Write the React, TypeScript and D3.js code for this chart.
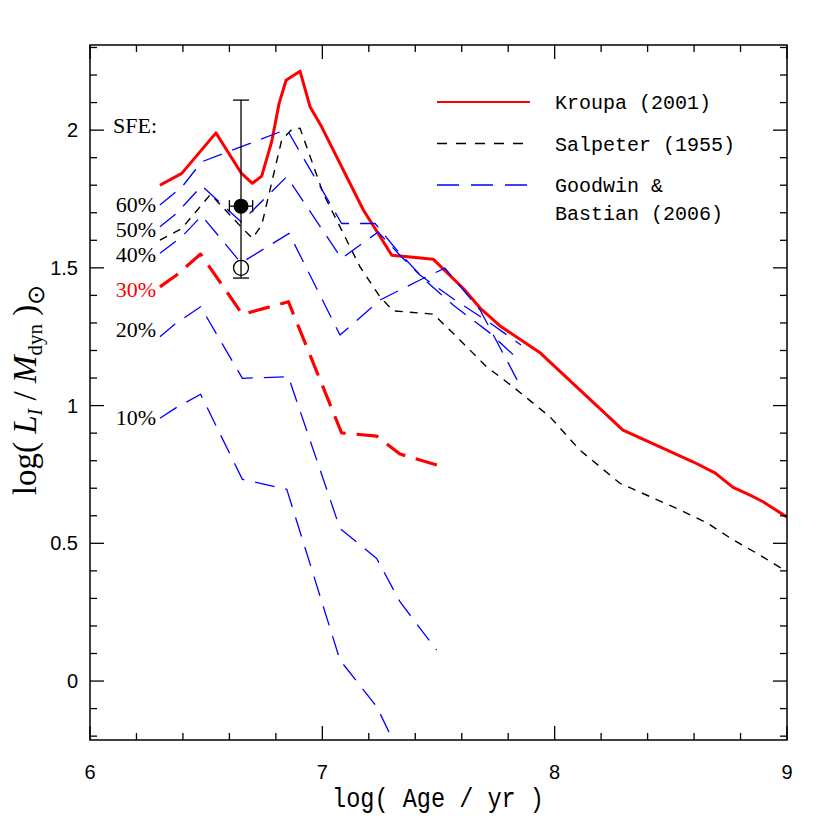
import React from "react";
import * as d3 from "d3";

type P = [number, number];

const kroupa: P[] = [
  [6.301, 1.8], [6.395, 1.843], [6.542, 1.99], [6.65, 1.845], [6.699, 1.807], [6.739, 1.833],
  [6.782, 1.958], [6.814, 2.097], [6.844, 2.181], [6.904, 2.214], [6.947, 2.085], [6.997, 2.012],
  [7.176, 1.711], [7.299, 1.546], [7.478, 1.531], [7.607, 1.425], [7.679, 1.354], [7.765, 1.289],
  [7.937, 1.192], [7.971, 1.165], [8.294, 0.911], [8.484, 0.838], [8.595, 0.796], [8.69, 0.756],
  [8.768, 0.703], [8.841, 0.675], [8.897, 0.651], [9.0, 0.595],
];

const salpeter: P[] = [
  [6.301, 1.601], [6.395, 1.643], [6.519, 1.767], [6.65, 1.649], [6.699, 1.607], [6.739, 1.655],
  [6.825, 1.964], [6.868, 2.002], [6.904, 2.007], [7.004, 1.77], [7.083, 1.637], [7.162, 1.504],
  [7.248, 1.395], [7.305, 1.344], [7.478, 1.332], [7.578, 1.25], [7.707, 1.141], [7.821, 1.068],
  [7.98, 0.959], [8.109, 0.838], [8.281, 0.718], [8.54, 0.621], [8.654, 0.575], [8.769, 0.512],
  [8.87, 0.464], [9.0, 0.397],
];

const gb60: P[] = [
  [6.301, 1.728], [6.395, 1.793], [6.481, 1.885], [6.847, 2.003], [7.083, 1.661], [7.227, 1.661],
  [7.313, 1.572], [7.442, 1.455], [7.563, 1.365], [7.722, 1.263], [7.855, 1.158],
];
const gb50: P[] = [
  [6.301, 1.649], [6.373, 1.698], [6.481, 1.798], [6.65, 1.667], [6.847, 1.831], [7.083, 1.534],
  [7.24, 1.63], [7.334, 1.546], [7.42, 1.474], [7.571, 1.383], [7.722, 1.3], [7.855, 1.22],
];
const gb40: P[] = [
  [6.301, 1.553], [6.395, 1.613], [6.481, 1.689], [6.65, 1.518], [6.857, 1.625], [7.076, 1.256],
  [7.248, 1.383], [7.42, 1.456], [7.528, 1.499], [7.679, 1.347], [7.855, 1.067],
];
const kroupa30: P[] = [
  [6.301, 1.431], [6.373, 1.474], [6.476, 1.55], [6.656, 1.331], [6.854, 1.377], [7.083, 0.901],
  [7.234, 0.889], [7.334, 0.824], [7.506, 0.781],
];
const gb20: P[] = [
  [6.301, 1.25], [6.366, 1.296], [6.476, 1.359], [6.656, 1.099], [6.854, 1.105], [7.076, 0.554],
  [7.234, 0.445], [7.334, 0.288], [7.492, 0.112],
];
const gb10: P[] = [
  [6.301, 0.954], [6.366, 0.99], [6.476, 1.041], [6.656, 0.732], [6.847, 0.696], [7.076, 0.076],
  [7.234, -0.093], [7.356, -0.305],
];

const xTicks = [6, 7, 8, 9];
const yTicks = [0, 0.5, 1, 1.5, 2];
const sfeLabels = [
  { t: "60%", y: 1.728, c: "#000" },
  { t: "50%", y: 1.637, c: "#000" },
  { t: "40%", y: 1.545, c: "#000" },
  { t: "30%", y: 1.42, c: "#ff0000" },
  { t: "20%", y: 1.275, c: "#000" },
  { t: "10%", y: 0.955, c: "#000" },
];
const obs = { x: 6.65, y: 1.724, xerr: 0.05, ylo: 1.463, yhi: 2.109, yOpen: 1.5 };
const legendItems = [
  { label: ["Kroupa (2001)"], color: "#ff0000", dash: "none", w: 2 },
  { label: ["Salpeter (1955)"], color: "#000", dash: "10,9", w: 1.5 },
  { label: ["Goodwin &", "Bastian (2006)"], color: "#0000ff", dash: "22,12", w: 1.5 },
];

const L = 90, R = 787, T = 45, B = 740;

export default function App() {
  const x = d3.scaleLinear().domain([6, 9]).range([L, R]);
  const y = d3.scaleLinear().domain([-0.214, 2.309]).range([B, T]);
  const line = d3.line<P>().x((d) => x(d[0])).y((d) => y(d[1]));
  const xMinor = d3.range(6, 9.001, 0.2);
  const yMinor = d3.range(-0.2, 2.301, 0.1);
  const tickFont = "'Liberation Sans', Arial, sans-serif";
  const serif = "'Liberation Serif', 'Times New Roman', serif";

  return (
    <svg width={830} height={830} style={{ display: "block", position: "absolute", left: 0, top: 0 }}>
      <rect width={830} height={830} fill="#fff" />
      <defs>
        <clipPath id="plotclip">
          <rect x={L} y={T} width={R - L} height={B - T} />
        </clipPath>
      </defs>
      <g clipPath="url(#plotclip)" fill="none" strokeLinejoin="round">
        <path d={line(kroupa)!} stroke="#ff0000" strokeWidth={3} />
        <path d={line(salpeter)!} stroke="#000" strokeWidth={1.4} strokeDasharray="8,7" />
        <path d={line(gb60)!} stroke="#0000ff" strokeWidth={1.3} strokeDasharray="20,11" />
        <path d={line(gb50)!} stroke="#0000ff" strokeWidth={1.3} strokeDasharray="20,11" />
        <path d={line(gb40)!} stroke="#0000ff" strokeWidth={1.3} strokeDasharray="20,11" />
        <path d={line(kroupa30)!} stroke="#ff0000" strokeWidth={3.2} strokeDasharray="22,11" />
        <path d={line(gb20)!} stroke="#0000ff" strokeWidth={1.3} strokeDasharray="20,11" />
        <path d={line(gb10)!} stroke="#0000ff" strokeWidth={1.3} strokeDasharray="20,11" />
      </g>

      {/* observation */}
      <g stroke="#000" strokeWidth={1.3} fill="none">
        <line x1={x(obs.x)} x2={x(obs.x)} y1={y(obs.yhi)} y2={y(obs.ylo)} />
        <line x1={x(obs.x) - 8} x2={x(obs.x) + 8} y1={y(obs.yhi)} y2={y(obs.yhi)} />
        <line x1={x(obs.x) - 8} x2={x(obs.x) + 8} y1={y(obs.ylo)} y2={y(obs.ylo)} />
        <line x1={x(obs.x - obs.xerr)} x2={x(obs.x + obs.xerr)} y1={y(obs.y)} y2={y(obs.y)} />
        <line x1={x(obs.x - obs.xerr)} x2={x(obs.x - obs.xerr)} y1={y(obs.y) - 6} y2={y(obs.y) + 6} />
        <line x1={x(obs.x + obs.xerr)} x2={x(obs.x + obs.xerr)} y1={y(obs.y) - 6} y2={y(obs.y) + 6} />
        <circle cx={x(obs.x)} cy={y(obs.yOpen)} r={7.5} />
      </g>
      <circle cx={x(obs.x)} cy={y(obs.y)} r={7.5} fill="#000" />

      {/* frame */}
      <rect x={L} y={T} width={R - L} height={B - T} fill="none" stroke="#000" strokeWidth={1.5} />
      <g stroke="#000" strokeWidth={1.3}>
        {xMinor.map((v, i) => {
          const major = Math.abs(v - Math.round(v)) < 1e-6;
          const len = major ? 14 : 7;
          return (
            <g key={"x" + i}>
              <line x1={x(v)} x2={x(v)} y1={B} y2={B - len} />
              <line x1={x(v)} x2={x(v)} y1={T} y2={T + len} />
            </g>
          );
        })}
        {yMinor.map((v, i) => {
          const major = Math.abs(v * 2 - Math.round(v * 2)) < 1e-6;
          const len = major ? 14 : 7;
          return (
            <g key={"y" + i}>
              <line x1={L} x2={L + len} y1={y(v)} y2={y(v)} />
              <line x1={R} x2={R - len} y1={y(v)} y2={y(v)} />
            </g>
          );
        })}
      </g>
      <g fontFamily={tickFont} fontSize={20} fill="#000">
        {xTicks.map((v) => (
          <text key={v} x={x(v)} y={779} textAnchor="middle">{v}</text>
        ))}
        {yTicks.map((v) => (
          <text key={v} x={78} y={y(v) + 7} textAnchor="end">{v}</text>
        ))}
      </g>

      {/* axis labels */}
      <text x={438} y={807} textAnchor="middle" fontFamily="'Liberation Mono', monospace" fontSize={28}
        textLength={212} lengthAdjust="spacingAndGlyphs">log( Age / yr )</text>
      <text transform="translate(36,390) rotate(-90)" textAnchor="middle"
        fontFamily={serif} fontSize={33}>
        <tspan>log( </tspan>
        <tspan fontStyle="italic">L</tspan>
        <tspan fontStyle="italic" fontSize={20} dy={6}>I</tspan>
        <tspan dy={-6}> / </tspan>
        <tspan fontStyle="italic">M</tspan>
        <tspan fontSize={21} dy={6}>dyn</tspan>
        <tspan dy={-6}> )</tspan>
        <tspan fontSize={24} dy={8}>⊙</tspan>
      </text>

      {/* SFE labels */}
      <g fontFamily={serif} fontSize={22}>
        <text x={113} y={133}>SFE:</text>
        {sfeLabels.map((s) => (
          <text key={s.t} x={156} y={y(s.y) + 7} textAnchor="end" fill={s.c}>{s.t}</text>
        ))}
      </g>

      {/* legend */}
      <g fontFamily="'Liberation Mono', monospace" fontSize={20}>
        {legendItems.map((it, i) => {
          const ly = 102 + i * 41.5;
          return (
            <g key={i}>
              <line x1={437} x2={530} y1={ly} y2={ly} stroke={it.color} strokeWidth={it.w}
                strokeDasharray={it.dash === "none" ? undefined : it.dash} />
              {it.label.map((t, j) => (
                <text key={j} x={555} y={ly + 7 + j * 28}>{t}</text>
              ))}
            </g>
          );
        })}
      </g>
    </svg>
  );
}
